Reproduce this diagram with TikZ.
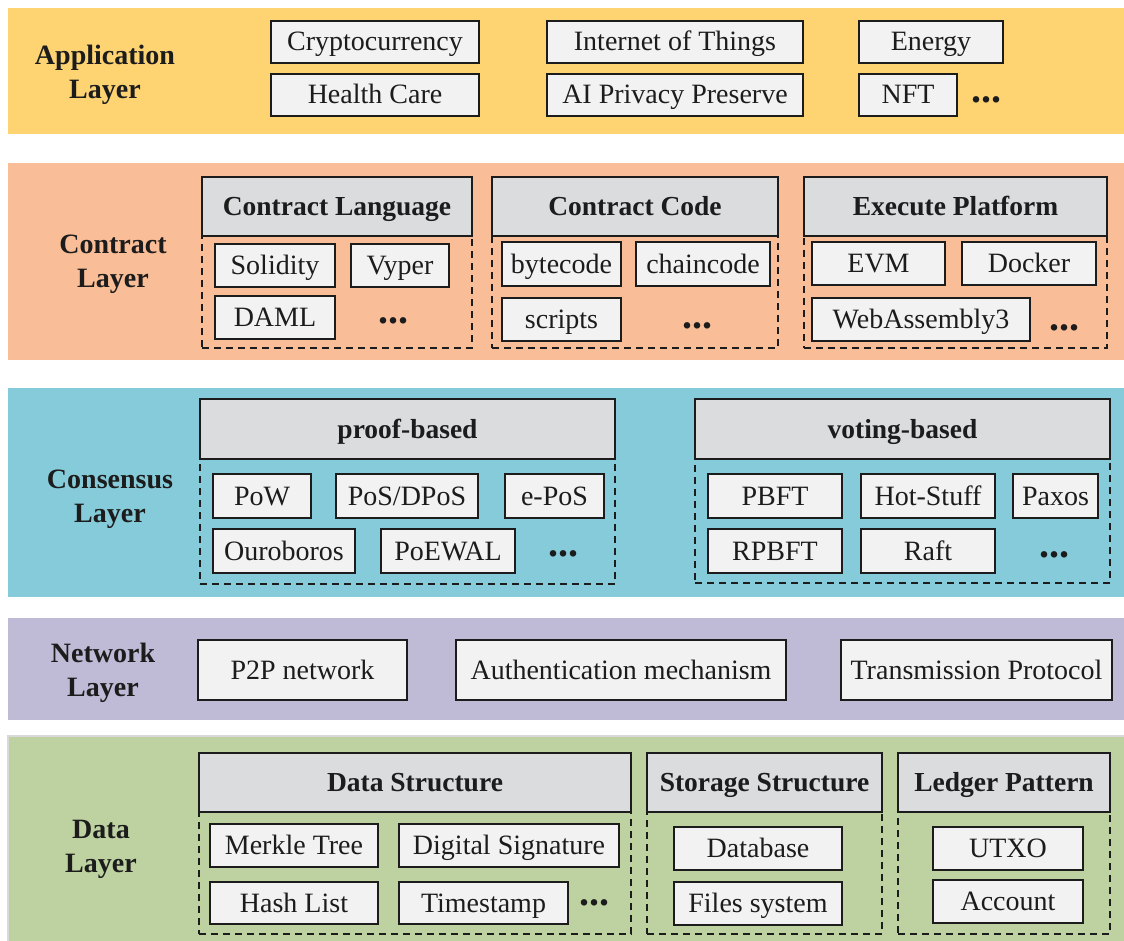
\documentclass[tikz,border=0pt]{standalone}
\usepackage{fontspec}
\setmainfont{Liberation Serif}
\definecolor{appc}{RGB}{254,211,114}
\definecolor{conc}{RGB}{249,189,151}
\definecolor{cnsc}{RGB}{134,203,217}
\definecolor{netc}{RGB}{191,186,214}
\definecolor{datc}{RGB}{190,210,161}
\definecolor{itemc}{RGB}{242,242,242}
\definecolor{headc}{RGB}{219,220,222}
\definecolor{inkc}{RGB}{28,28,28}
\newcommand\mkbox[7]{\node[#1, minimum width={(#4-#2)*1pt}, minimum height={(#5-#3)*1pt}] (#6) at ({(#2+#4)/2},{(#3+#5)/2}) {#7};}
\tikzset{
  band/.style={draw=none, inner sep=0pt, outer sep=0pt},
  item/.style={draw=inkc, fill=itemc, line width=2.6pt, inner sep=0pt, text=inkc, text height=21.5pt, text depth=3.5pt, font=\fontsize{28}{32}\selectfont},
  header/.style={draw=inkc, fill=headc, line width=2.6pt, inner sep=0pt, text=inkc, text height=21.5pt, text depth=3.5pt, font=\fontsize{27.5}{32}\selectfont\bfseries},
  group/.style={draw=inkc, line width=2.2pt, dash pattern=on 7pt off 5pt, inner sep=0pt},
  layerlabel/.style={align=center, text=inkc, font=\fontsize{28}{34}\selectfont\bfseries},
  more/.style={text=inkc, inner sep=0pt, font=\fontsize{40}{40}\selectfont\bfseries}
}
\begin{document}
\begin{tikzpicture}[x=1pt,y=-1pt]
\useasboundingbox (0,0) rectangle (1124,941);
% bands
\mkbox{band, fill=appc}{8}{8}{1124}{134}{bapp}{}
\mkbox{band, fill=conc}{8}{163}{1124}{360}{bcon}{}
\mkbox{band, fill=cnsc}{8}{388}{1124}{597}{bcns}{}
\mkbox{band, fill=netc}{8}{618}{1124}{720}{bnet}{}
\mkbox{band, fill=datc, draw=black!15, line width=1.5pt}{8}{736}{1126}{943}{bdat}{}
% layer labels
\node[layerlabel] (lapp) at (105,75) {Application\\Layer};
\node[layerlabel] (lcon) at (113,264) {Contract\\Layer};
\node[layerlabel] (lcns) at (110,499) {Consensus\\Layer};
\node[layerlabel] (lnet) at (103,673) {Network\\Layer};
\node[layerlabel] (ldat) at (101,849) {Data\\Layer};
% application layer
\mkbox{item}{271}{21}{479}{63}{crypto}{Cryptocurrency}
\mkbox{item}{271}{74}{479}{116}{health}{Health Care}
\mkbox{item}{547}{21}{803}{63}{iot}{Internet of Things}
\mkbox{item}{547}{74}{803}{116}{aipp}{AI Privacy Preserve}
\mkbox{item}{859}{21}{1003}{63}{energy}{Energy}
\mkbox{item}{859}{74}{957}{116}{nft}{NFT}
\node[more] (appmore) at (986,100) {...};
% contract layer
\mkbox{group}{202}{236}{472}{348}{gcl}{}
\mkbox{header}{202}{177}{472}{236}{hcl}{Contract Language}
\mkbox{item}{215}{244}{335}{287}{solidity}{Solidity}
\mkbox{item}{351}{244}{449}{287}{vyper}{Vyper}
\mkbox{item}{215}{296}{335}{339}{daml}{DAML}
\node[more] (clmore) at (393,321) {...};
\mkbox{group}{492}{236}{778}{348}{gcc}{}
\mkbox{header}{492}{177}{778}{236}{hcc}{Contract Code}
\mkbox{item}{502}{242}{621}{286}{bytecode}{bytecode}
\mkbox{item}{636}{242}{770}{286}{chaincode}{chaincode}
\mkbox{item}{502}{298}{621}{341}{scripts}{scripts}
\node[more] (ccmore) at (697,326) {...};
\mkbox{group}{804}{236}{1107}{348}{gep}{}
\mkbox{header}{804}{177}{1107}{236}{hep}{Execute Platform}
\mkbox{item}{812}{242}{945}{285}{evm}{EVM}
\mkbox{item}{962}{242}{1096}{285}{docker}{Docker}
\mkbox{item}{812}{298}{1030}{341}{wasm}{WebAssembly3}
\node[more] (epmore) at (1064,328) {...};
% consensus layer
\mkbox{group}{200}{459}{615}{584}{gpb}{}
\mkbox{header}{200}{399}{615}{459}{hpb}{proof-based}
\mkbox{item}{213}{474}{311}{518}{pow}{PoW}
\mkbox{item}{336}{474}{478}{518}{pos}{PoS/DPoS}
\mkbox{item}{505}{474}{604}{518}{epos}{e-PoS}
\mkbox{item}{213}{529}{355}{573}{ouro}{Ouroboros}
\mkbox{item}{381}{529}{515}{573}{poewal}{PoEWAL}
\node[more] (pbmore) at (563,554) {...};
\mkbox{group}{695}{459}{1110}{583}{gvb}{}
\mkbox{header}{695}{399}{1110}{459}{hvb}{voting-based}
\mkbox{item}{708}{474}{842}{518}{pbft}{PBFT}
\mkbox{item}{861}{474}{995}{518}{hotstuff}{Hot-Stuff}
\mkbox{item}{1013}{474}{1098}{518}{paxos}{Paxos}
\mkbox{item}{708}{529}{842}{573}{rpbft}{RPBFT}
\mkbox{item}{861}{529}{995}{573}{raft}{Raft}
\node[more] (vbmore) at (1054,555) {...};
% network layer
\mkbox{item}{198}{640}{407}{700}{p2p}{P2P network}
\mkbox{item}{456}{640}{786}{700}{auth}{Authentication mechanism}
\mkbox{item}{841}{640}{1112}{700}{trans}{Transmission Protocol}
% data layer
\mkbox{group}{199}{812}{631}{934}{gds}{}
\mkbox{header}{199}{753}{631}{812}{hds}{Data Structure}
\mkbox{item}{210}{824}{378}{867}{merkle}{Merkle Tree}
\mkbox{item}{399}{824}{619}{867}{digsig}{Digital Signature}
\mkbox{item}{210}{882}{378}{924}{hashlist}{Hash List}
\mkbox{item}{399}{882}{568}{924}{timestamp}{Timestamp}
\node[more] (dsmore) at (594,903) {...};
\mkbox{group}{647}{812}{882}{934}{gss}{}
\mkbox{header}{647}{753}{882}{812}{hss}{Storage Structure}
\mkbox{item}{674}{827}{842}{870}{database}{Database}
\mkbox{item}{674}{882}{842}{925}{files}{Files system}
\mkbox{group}{898}{812}{1110}{934}{glp}{}
\mkbox{header}{898}{753}{1110}{812}{hlp}{Ledger Pattern}
\mkbox{item}{933}{827}{1083}{870}{utxo}{UTXO}
\mkbox{item}{933}{880}{1083}{923}{account}{Account}
\end{tikzpicture}
\end{document}
